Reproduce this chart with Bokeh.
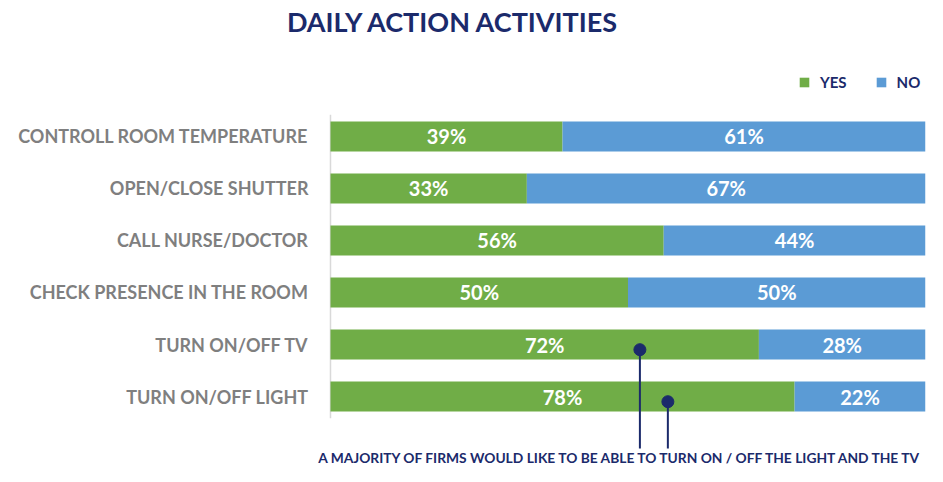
from bokeh.plotting import figure
from bokeh.models import ColumnDataSource, Range1d, Legend
from bokeh.core.properties import value
from bokeh.embed import file_html
from bokeh.resources import INLINE

categories = ["CONTROLL ROOM TEMPERATURE", "OPEN/CLOSE SHUTTER", "CALL NURSE/DOCTOR",
              "CHECK PRESENCE IN THE ROOM", "TURN ON/OFF TV", "TURN ON/OFF LIGHT"]
yes_vals = [39, 33, 56, 50, 72, 78]
no_vals = [61, 67, 44, 50, 28, 22]
title_text = "DAILY ACTION ACTIVITIES"
note_text = "A MAJORITY OF FIRMS WOULD LIKE TO BE ABLE TO TURN ON / OFF THE LIGHT AND THE TV"
# annotation markers (x in % units, row index they sit on)
marker_x = [52.0, 56.7]
marker_rows = [4, 5]

GREEN = "#70AD47"
BLUE = "#5B9BD5"
NAVY = "#1B2A6B"
GREY = "#7F7F7F"
FONT = "Lato"

n = len(categories)
ypos = [n - 1 - i for i in range(n)]

src = ColumnDataSource(dict(
    y=ypos, cat=categories, yes=yes_vals, no=no_vals,
    yes_mid=[v / 2 for v in yes_vals],
    no_mid=[y + v / 2 for y, v in zip(yes_vals, no_vals)],
    yes_lbl=[f"{v}%" for v in yes_vals],
    no_lbl=[f"{v}%" for v in no_vals],
))

p = figure(width=927, height=466, output_backend="svg", toolbar_location=None,
           x_range=Range1d(-55.46, 100), y_range=Range1d(-1.346, 7.615),
           min_border_left=0, min_border_right=2, min_border_top=0, min_border_bottom=0)
p.outline_line_color = None
p.xgrid.visible = False
p.ygrid.visible = False
p.xaxis.visible = False
p.yaxis.visible = False

# category labels
p.text(x=-3.7, y="y", text="cat", source=src, text_color=GREY, text_font=value(FONT),
       text_font_style="bold", text_font_size="18px", text_align="right",
       text_baseline="middle")

# thin vertical base line
p.segment(x0=[0], y0=[-0.42], x1=[0], y1=[n - 1 + 0.42], line_color="#D9D9D9", line_width=1.5)

rs = p.hbar_stack(["yes", "no"], y="y", height=0.58, color=[GREEN, BLUE], source=src,
                  line_color=None)

p.text(x="yes_mid", y="y", text="yes_lbl", source=src, text_color="white",
       text_font=value(FONT), text_font_style="bold", text_font_size="20px",
       text_align="center", text_baseline="middle")
p.text(x="no_mid", y="y", text="no_lbl", source=src, text_color="white",
       text_font=value(FONT), text_font_style="bold", text_font_size="20px",
       text_align="center", text_baseline="middle")

legend = Legend(items=[("YES", [rs[0]]), ("NO", [rs[1]])], orientation="horizontal",
                location=(798, 375), glyph_width=12, glyph_height=12, label_standoff=10,
                spacing=28, padding=0, margin=0, label_text_font=FONT,
                label_text_font_style="bold", label_text_font_size="15px",
                label_text_color=NAVY, background_fill_alpha=0, border_line_color=None)
p.add_layout(legend)

# title
p.text(x=[20.67], y=[7.211], text=[title_text], text_color=NAVY, text_font=value(FONT),
       text_font_style="bold", text_font_size="27px", text_align="center",
       text_baseline="middle")

# annotation
mk_y = [ypos[r] - 0.1 for r in marker_rows]
p.segment(x0=marker_x, y0=mk_y, x1=marker_x, y1=[-1.0] * len(marker_x),
          line_color=NAVY, line_width=2)
p.scatter(x=marker_x, y=mk_y, size=12, color=NAVY)
p.text(x=[48.9], y=[-1.173], text=[note_text], text_color=NAVY, text_font=value(FONT),
       text_font_style="bold", text_font_size="13.8px", text_align="center",
       text_baseline="middle")

open("out.html", "w").write(file_html(p, INLINE))
